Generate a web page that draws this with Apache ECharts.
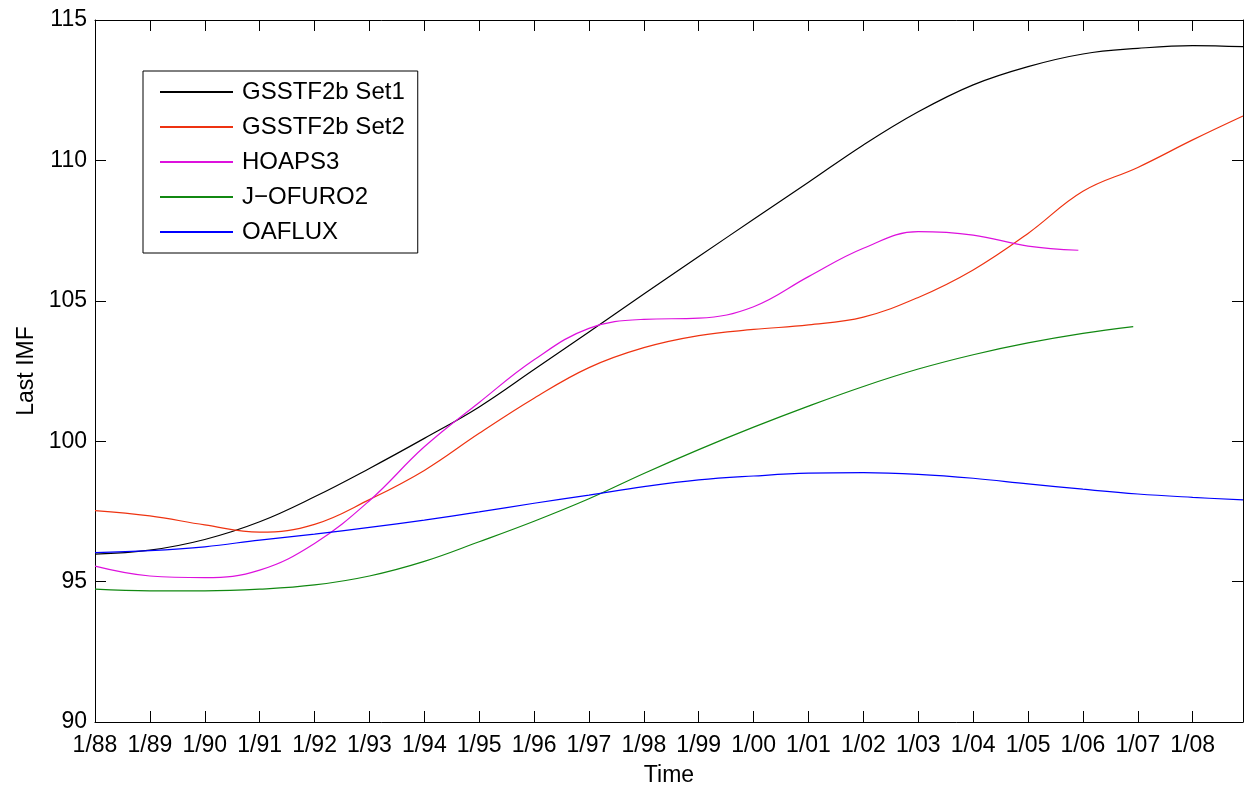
<!DOCTYPE html>
<html>
<head>
<meta charset="utf-8">
<script src="https://cdn.jsdelivr.net/npm/echarts@6/dist/echarts.min.js"></script>
<style>html,body{margin:0;padding:0;background:#fff;}#chart{width:1245px;height:785px;}</style>
</head>
<body>
<div id="chart"></div>
<script>
// x positions are months since Jan 1988
const tickLabels = ['1/88','1/89','1/90','1/91','1/92','1/93','1/94','1/95','1/96','1/97','1/98','1/99','1/00','1/01','1/02','1/03','1/04','1/05','1/06','1/07','1/08'];
const monthsFull = [0,12,24,36,48,60,72,84,96,108,120,132,144,156,168,180,192,204,216,228,240,251];
const monthsHoaps = [0,12,24,36,48,60,72,84,96,108,120,132,144,156,168,180,192,204,215];
const monthsJofuro = [0,12,24,36,48,60,72,84,96,108,120,132,144,156,168,180,192,204,216,227];

const gsstfSet1 = [95.98,96.12,96.5,97.13,98.02,99.03,100.1,101.22,102.55,103.89,105.24,106.58,107.9,109.22,110.55,111.73,112.69,113.34,113.79,113.99,114.09,114.05];
const gsstfSet2 = [97.53,97.34,97.02,96.76,97.04,97.92,98.96,100.28,101.53,102.62,103.33,103.76,103.98,104.14,104.42,105.12,106.1,107.4,108.9,109.75,110.73,111.58];
const hoaps3 = [95.55,95.2,95.14,95.41,96.36,97.88,99.8,101.38,102.9,104.02,104.34,104.38,104.79,105.86,106.87,107.46,107.34,106.95,106.8];
const jofuro2 = [94.73,94.67,94.67,94.73,94.88,95.2,95.72,96.42,97.15,97.95,98.85,99.7,100.5,101.25,101.95,102.57,103.08,103.5,103.84,104.08];
const oaflux = [96.03,96.1,96.24,96.48,96.69,96.93,97.19,97.48,97.79,98.08,98.38,98.62,98.76,98.86,98.88,98.82,98.68,98.48,98.29,98.12,98.0,97.91];

const seriesNames = ['GSSTF2b Set1','GSSTF2b Set2','HOAPS3','J\u2212OFURO2','OAFLUX'];
const seriesColors = ['#000000','#ee3311','#dd11dd','#118811','#0000ff'];
const seriesX = [monthsFull, monthsFull, monthsHoaps, monthsJofuro, monthsFull];
const seriesY = [gsstfSet1, gsstfSet2, hoaps3, jofuro2, oaflux];

const FONT = '"Liberation Sans", Arial, Helvetica, sans-serif';
const chart = echarts.init(document.getElementById('chart'), null, {renderer:'canvas'});

function pairs(xs, ys){ return ys.map((v,i)=>[xs[i], v]); }

const axisCommon = {
  axisLine:{show:true, onZero:false, lineStyle:{color:'#000', width:1}},
  axisTick:{show:true, inside:true, length:11, lineStyle:{color:'#000', width:1}},
  splitLine:{show:false}
};

const option = {
  animation:false,
  backgroundColor:'#fff',
  grid:{left:95, right:2, top:20, bottom:63, containLabel:false, outerBoundsMode:'none'},
  legend:{
    orient:'vertical', left:143, top:71,
    padding:[8,13,8,16],
    itemWidth:73, itemHeight:14, itemGap:9,
    itemStyle:{opacity:0, borderWidth:0},
    borderColor:'#000', borderWidth:1, backgroundColor:'#fff',
    textStyle:{fontFamily:FONT, fontSize:24, color:'#000', lineHeight:26, padding:[0,0,0,4]},
    data:seriesNames
  },
  xAxis:[
    Object.assign({}, axisCommon, {
      type:'value', min:0, max:251, interval:12, position:'bottom',
      axisLabel:{fontFamily:FONT, fontSize:23, color:'#000', margin:12, showMaxLabel:false,
        formatter:function(v){ return (v % 12 === 0) ? (tickLabels[v/12] || '') : ''; }},
      name:'Time', nameLocation:'middle', nameGap:42,
      nameTextStyle:{fontFamily:FONT, fontSize:23, color:'#000'}
    }),
    Object.assign({}, axisCommon, {
      type:'value', min:0, max:251, interval:12, position:'top',
      axisLabel:{show:false}
    })
  ],
  yAxis:[
    Object.assign({}, axisCommon, {
      type:'value', min:90, max:115, interval:5, position:'left',
      axisLabel:{fontFamily:FONT, fontSize:23, color:'#000', margin:8},
      name:'Last IMF', nameLocation:'middle', nameGap:45,
      nameTextStyle:{fontFamily:FONT, fontSize:23, color:'#000'}
    }),
    Object.assign({}, axisCommon, {
      type:'value', min:90, max:115, interval:5, position:'right',
      axisLabel:{show:false}
    })
  ],
  series: seriesNames.map((n,i)=>({
    name:n, type:'line', xAxisIndex:0, yAxisIndex:0,
    data:pairs(seriesX[i], seriesY[i]),
    smooth:0.4, symbol:'none', showSymbol:false,
    lineStyle:{color:seriesColors[i], width:1.2},
    itemStyle:{color:seriesColors[i]}
  }))
};
chart.setOption(option);
</script>
</body>
</html>
